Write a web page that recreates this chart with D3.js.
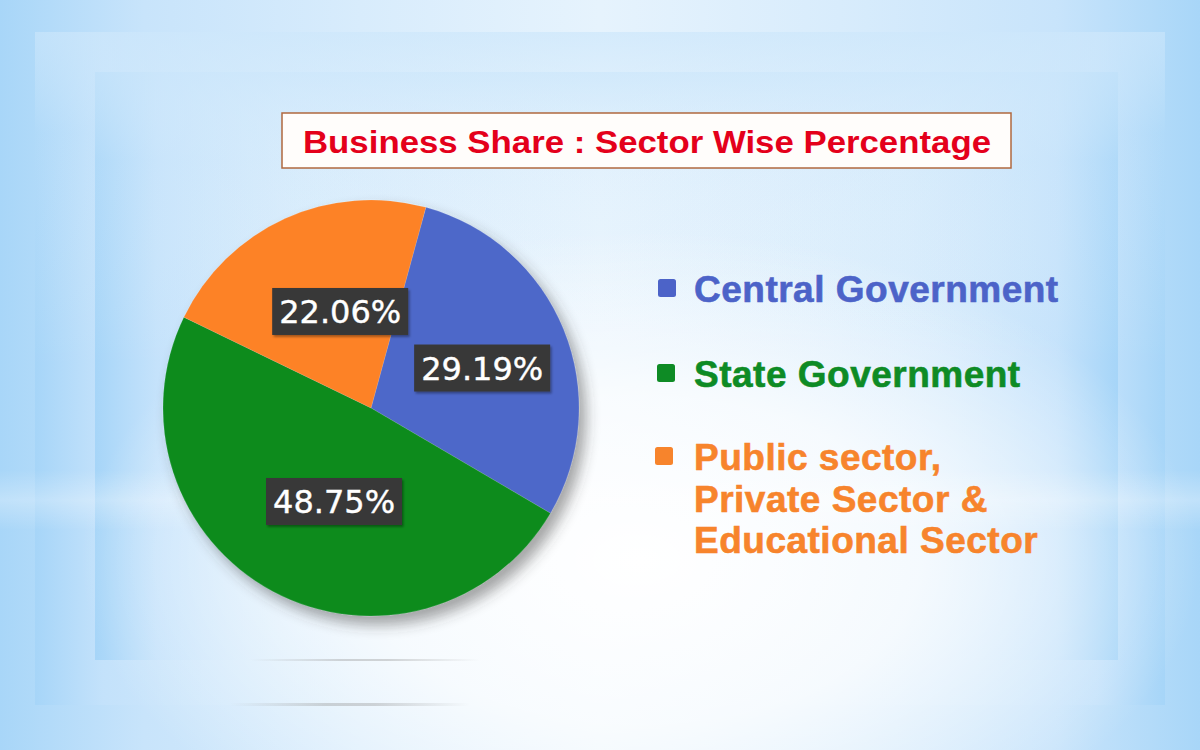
<!DOCTYPE html>
<html>
<head>
<meta charset="utf-8">
<script src="https://cdn.jsdelivr.net/npm/d3@7/dist/d3.min.js"></script>
<style>
  html, body { margin: 0; padding: 0; width: 1200px; height: 750px; overflow: hidden; background: #d4eafc; }
  svg { display: block; }
</style>
</head>
<body>
<svg id="chart" width="1200" height="750"></svg>
<script>
// ---- Data ----
const title = "Business Share : Sector Wise Percentage";
const categories = ["Central Government", "State Government", "Public sector, Private Sector & Educational Sector"];
const legendLines = [["Central Government"], ["State Government"], ["Public sector,", "Private Sector &", "Educational Sector"]];
const values = [29.19, 48.75, 22.06];
const labels = ["29.19%", "48.75%", "22.06%"];
const sliceColors = ["#4d68c9", "#0b8b1f", "#fd8226"];
const legendColors = ["#4c63c8", "#0e8b25", "#f7842c"];

const svg = d3.select("#chart");
const defs = svg.append("defs");

// ---- Background ----
function hGrad(id, stops) {
  const g = defs.append("linearGradient").attr("id", id).attr("x1", "0").attr("x2", "1").attr("y1", "0").attr("y2", "0");
  stops.forEach(s => g.append("stop").attr("offset", s[0]).attr("stop-color", s[1]).attr("stop-opacity", s[2] == null ? 1 : s[2]));
}
function vGrad(id, stops) {
  const g = defs.append("linearGradient").attr("id", id).attr("x1", "0").attr("x2", "0").attr("y1", "0").attr("y2", "1");
  stops.forEach(s => g.append("stop").attr("offset", s[0]).attr("stop-color", s[1]).attr("stop-opacity", s[2] == null ? 1 : s[2]));
}
hGrad("bgH", [[0, "#a8d6f8"], [0.12, "#c8e4fb"], [0.3, "#d8ecfc"], [0.5, "#e6f3fd"], [0.7, "#d8ecfc"], [0.88, "#c8e4fb"], [1, "#a8d6f8"]]);
hGrad("frameH", [[0, "#a6d5f8"], [0.06, "#c4e2fb", 0.9], [0.2, "#d6ebfc", 0.4], [0.5, "#e8f4fe", 0.0], [0.8, "#d6ebfc", 0.4], [0.94, "#c4e2fb", 0.9], [1, "#a6d5f8"]]);
vGrad("frameV", [[0, "#cde7fb", 0.7], [0.15, "#d9edfc", 0.2], [0.5, "#ffffff", 0], [1, "#ffffff", 0]]);
const rg = defs.append("radialGradient").attr("id", "glow").attr("cx", "0.5").attr("cy", "0.5").attr("r", "0.5");
rg.append("stop").attr("offset", 0).attr("stop-color", "#ffffff").attr("stop-opacity", 1);
rg.append("stop").attr("offset", 0.5).attr("stop-color", "#ffffff").attr("stop-opacity", 0.75);
rg.append("stop").attr("offset", 1).attr("stop-color", "#ffffff").attr("stop-opacity", 0);

svg.append("rect").attr("width", 1200).attr("height", 750).attr("fill", "url(#bgH)");
svg.append("rect").attr("x", 35).attr("y", 32).attr("width", 1130).attr("height", 673).attr("fill", "url(#frameH)");
svg.append("rect").attr("x", 35).attr("y", 32).attr("width", 1130).attr("height", 673).attr("fill", "url(#frameV)");
svg.append("rect").attr("x", 95).attr("y", 72).attr("width", 1023).attr("height", 588).attr("fill", "url(#frameH)");
svg.append("rect").attr("x", 95).attr("y", 72).attr("width", 1023).attr("height", 588).attr("fill", "url(#frameV)");
svg.append("ellipse").attr("cx", 640).attr("cy", 560).attr("rx", 560).attr("ry", 330).attr("fill", "url(#glow)");
// faint bright horizontal band
vGrad("band", [[0, "#ffffff", 0], [0.5, "#ffffff", 0.28], [1, "#ffffff", 0]]);
svg.append("rect").attr("x", 0).attr("y", 470).attr("width", 1200).attr("height", 60).attr("fill", "url(#band)");
// faint shadow lines of frames under pie
hGrad("lineShadow", [[0, "#999", 0], [0.4, "#999", 0.4], [0.6, "#999", 0.4], [1, "#999", 0]]);
svg.append("rect").attr("x", 250).attr("y", 659).attr("width", 230).attr("height", 2).attr("fill", "url(#lineShadow)");
svg.append("rect").attr("x", 230).attr("y", 703).attr("width", 240).attr("height", 3).attr("fill", "url(#lineShadow)");

// ---- Title ----
const tg = svg.append("g");
tg.append("rect").attr("x", 282).attr("y", 113).attr("width", 729).attr("height", 55)
  .attr("fill", "#fffdfb").attr("stroke", "#b0683f").attr("stroke-width", 1.5);
tg.append("text").attr("x", 647).attr("y", 153).attr("text-anchor", "middle")
  .attr("font-family", "Liberation Sans, Arial, sans-serif").attr("font-weight", "bold").attr("font-size", 32)
  .attr("fill", "#e4001b").attr("textLength", 688).attr("lengthAdjust", "spacingAndGlyphs").text(title);

// ---- Pie ----
const cx = 371, cy = 408, R = 208;
const shadow = defs.append("filter").attr("id", "pieShadow").attr("x", "-20%").attr("y", "-20%").attr("width", "150%").attr("height", "150%");
shadow.append("feDropShadow").attr("dx", 7).attr("dy", 9).attr("stdDeviation", 7).attr("flood-color", "#3a3a3a").attr("flood-opacity", 0.45);
const boxShadow = defs.append("filter").attr("id", "boxShadow").attr("x", "-20%").attr("y", "-20%").attr("width", "150%").attr("height", "160%");
boxShadow.append("feDropShadow").attr("dx", 1.5).attr("dy", 2).attr("stdDeviation", 1.2).attr("flood-color", "#000").attr("flood-opacity", 0.35);

const startOffset = 15.3 * Math.PI / 180;
const pie = d3.pie().sort(null).value(d => d)
  .startAngle(startOffset).endAngle(startOffset + 2 * Math.PI);
const arcs = pie(values);
const arc = d3.arc().innerRadius(0).outerRadius(R);
const labelArc = d3.arc().innerRadius(106).outerRadius(106);
const color = d3.scaleOrdinal().domain(categories).range(sliceColors);

const pg = svg.append("g").attr("transform", `translate(${cx},${cy})`);
pg.append("g").attr("filter", "url(#pieShadow)")
  .selectAll("path").data(arcs).join("path")
  .attr("d", arc).attr("fill", (d, i) => color(categories[i]))
  .attr("stroke", "#ffffff").attr("stroke-opacity", 0.2).attr("stroke-width", 0.6);

const labelShiftX = 13;
const lg = pg.selectAll("g.lbl").data(arcs).join("g").attr("class", "lbl")
  .attr("transform", d => { const c = labelArc.centroid(d); return `translate(${c[0] + labelShiftX},${c[1]})`; });
lg.each(function(d, i) {
  const g = d3.select(this);
  const t = g.append("text").attr("text-anchor", "middle").attr("y", 12)
    .attr("font-family", "DejaVu Sans, sans-serif").attr("font-size", 32)
    .attr("fill", "#ffffff").attr("stroke", "#ffffff").attr("stroke-width", 0.4).text(labels[i]);
  const bb = t.node().getBBox();
  const w = bb.width + 14, h = 47;
  g.insert("rect", "text").attr("x", -w / 2).attr("y", -h / 2).attr("width", w).attr("height", h)
    .attr("fill", "#393939").attr("filter", "url(#boxShadow)");
});

// ---- Legend ----
const legendY = [302, 387, 470];
const legendSq = [[658, 279], [657, 364], [655, 447]];
const legendLineH = 41.5;
const leg = svg.append("g");
legendLines.forEach((lines, i) => {
  leg.append("rect").attr("x", legendSq[i][0]).attr("y", legendSq[i][1]).attr("width", 18).attr("height", 18)
    .attr("rx", 2.5).attr("fill", legendColors[i]);
  const t = leg.append("text").attr("x", 694).attr("y", legendY[i])
    .attr("font-family", "Liberation Sans, Arial, sans-serif").attr("font-weight", "bold").attr("font-size", 37)
    .attr("letter-spacing", 0.5)
    .attr("fill", legendColors[i]).attr("stroke", legendColors[i]).attr("stroke-width", 0.6);
  lines.forEach((ln, j) => {
    t.append("tspan").attr("x", 694).attr("y", legendY[i] + j * legendLineH).text(ln);
  });
});
</script>
</body>
</html>
